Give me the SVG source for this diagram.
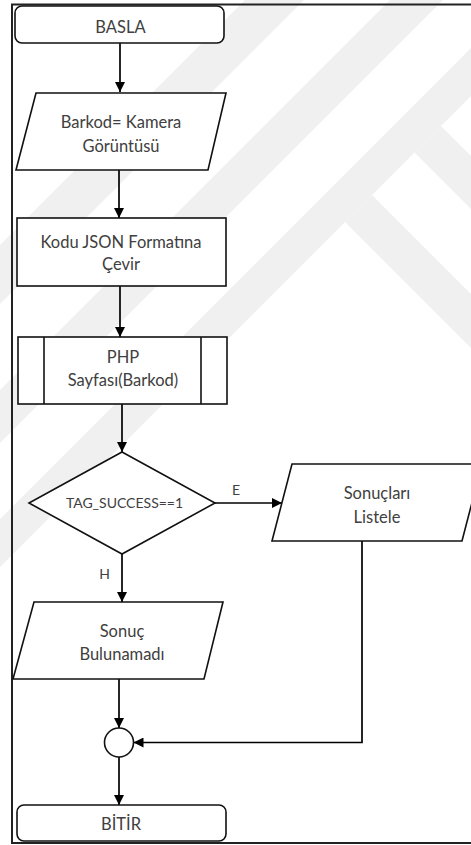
<svg xmlns="http://www.w3.org/2000/svg" width="471" height="845" viewBox="0 0 471 845">
<defs>
<marker id="ah" markerUnits="userSpaceOnUse" markerWidth="10" markerHeight="10" refX="10" refY="5" orient="auto">
<path d="M0,0 L10,5 L0,10 z" fill="#000"/>
</marker>
<style>
.wm{fill:#f0f0f0;stroke:none}
.shape{fill:#fff;stroke:#111;stroke-width:1.6}
.conn{fill:none;stroke:#000;stroke-width:1.7}
.t{font-family:Lato,"Liberation Sans",sans-serif;font-size:16.5px;fill:#404040;text-anchor:middle}
.s{font-size:14px}
</style>
</defs>
<rect x="0" y="0" width="471" height="845" fill="#fff"/>
<g id="watermark">
<polygon class="wm" points="245,0 304,0 0,304 0,245"/>
<polygon class="wm" points="390,0 443,0 0,443 0,390"/>
<polygon class="wm" points="471,48 471,96 0,567 0,519"/>
<polygon class="wm" points="372,195 471,294 471,348 345,222"/>
<polygon class="wm" points="441,126 471,156 471,209 414.5,152.5"/>
</g>
<path d="M473,4.5 H12 V843 H473" fill="none" stroke="#222" stroke-width="2"/>
<g id="connectors">
<line class="conn" x1="120" y1="43" x2="120" y2="92" marker-end="url(#ah)"/>
<line class="conn" x1="119" y1="170" x2="119" y2="218" marker-end="url(#ah)"/>
<line class="conn" x1="120" y1="286" x2="120" y2="337" marker-end="url(#ah)"/>
<line class="conn" x1="122" y1="404" x2="122" y2="452" marker-end="url(#ah)"/>
<line class="conn" x1="215" y1="503" x2="282" y2="503" marker-end="url(#ah)"/>
<line class="conn" x1="122" y1="554" x2="122" y2="602" marker-end="url(#ah)"/>
<line class="conn" x1="119" y1="679" x2="119" y2="728" marker-end="url(#ah)"/>
<polyline class="conn" points="362,541 362,742.5 133.5,742.5" stroke-width="1.4" marker-end="url(#ah)"/>
<line class="conn" x1="119" y1="757" x2="119" y2="805" marker-end="url(#ah)"/>
<text class="t s" x="236" y="495">E</text>
<text class="t s" x="104.5" y="579">H</text>
</g>
<g id="basla">
<rect class="shape" x="15" y="6" width="209" height="37" rx="7"/>
<text class="t" x="120.5" y="33">BASLA</text>
</g>
<g id="barkod">
<polygon class="shape" points="36,93 226,93 208,170 16,170"/>
<text class="t" x="121" y="128">Barkod= Kamera</text>
<text class="t" x="121" y="152">Görüntüsü</text>
</g>
<g id="kodu">
<rect class="shape" x="17" y="218" width="209" height="68"/>
<text class="t" x="121" y="248">Kodu JSON Formatına</text>
<text class="t" x="121" y="270">Çevir</text>
</g>
<g id="php">
<rect class="shape" x="18" y="337" width="209" height="67"/>
<line class="shape" x1="44" y1="337" x2="44" y2="404"/>
<line class="shape" x1="201" y1="337" x2="201" y2="404"/>
<text class="t" x="123" y="363">PHP</text>
<text class="t" x="123" y="386">Sayfası(Barkod)</text>
</g>
<g id="decision">
<polygon class="shape" points="122,452 215,503 122,554 29,503"/>
<text class="t s" x="124.5" y="508">TAG_SUCCESS==1</text>
</g>
<g id="sonuclari">
<polygon class="shape" points="292,464 482,464 462,541 272,541"/>
<text class="t" x="377" y="499">Sonuçları</text>
<text class="t" x="377" y="523">Listele</text>
</g>
<g id="sonuc">
<polygon class="shape" points="34,602 223,602 204,679 13,679"/>
<text class="t" x="122" y="637">Sonuç</text>
<text class="t" x="122" y="660">Bulunamadı</text>
</g>
<g id="merge">
<circle class="shape" cx="119" cy="742.5" r="14.5"/>
</g>
<g id="bitir">
<rect class="shape" x="17" y="805" width="209" height="36" rx="7"/>
<text class="t" x="121" y="830">BİTİR</text>
</g>
</svg>
